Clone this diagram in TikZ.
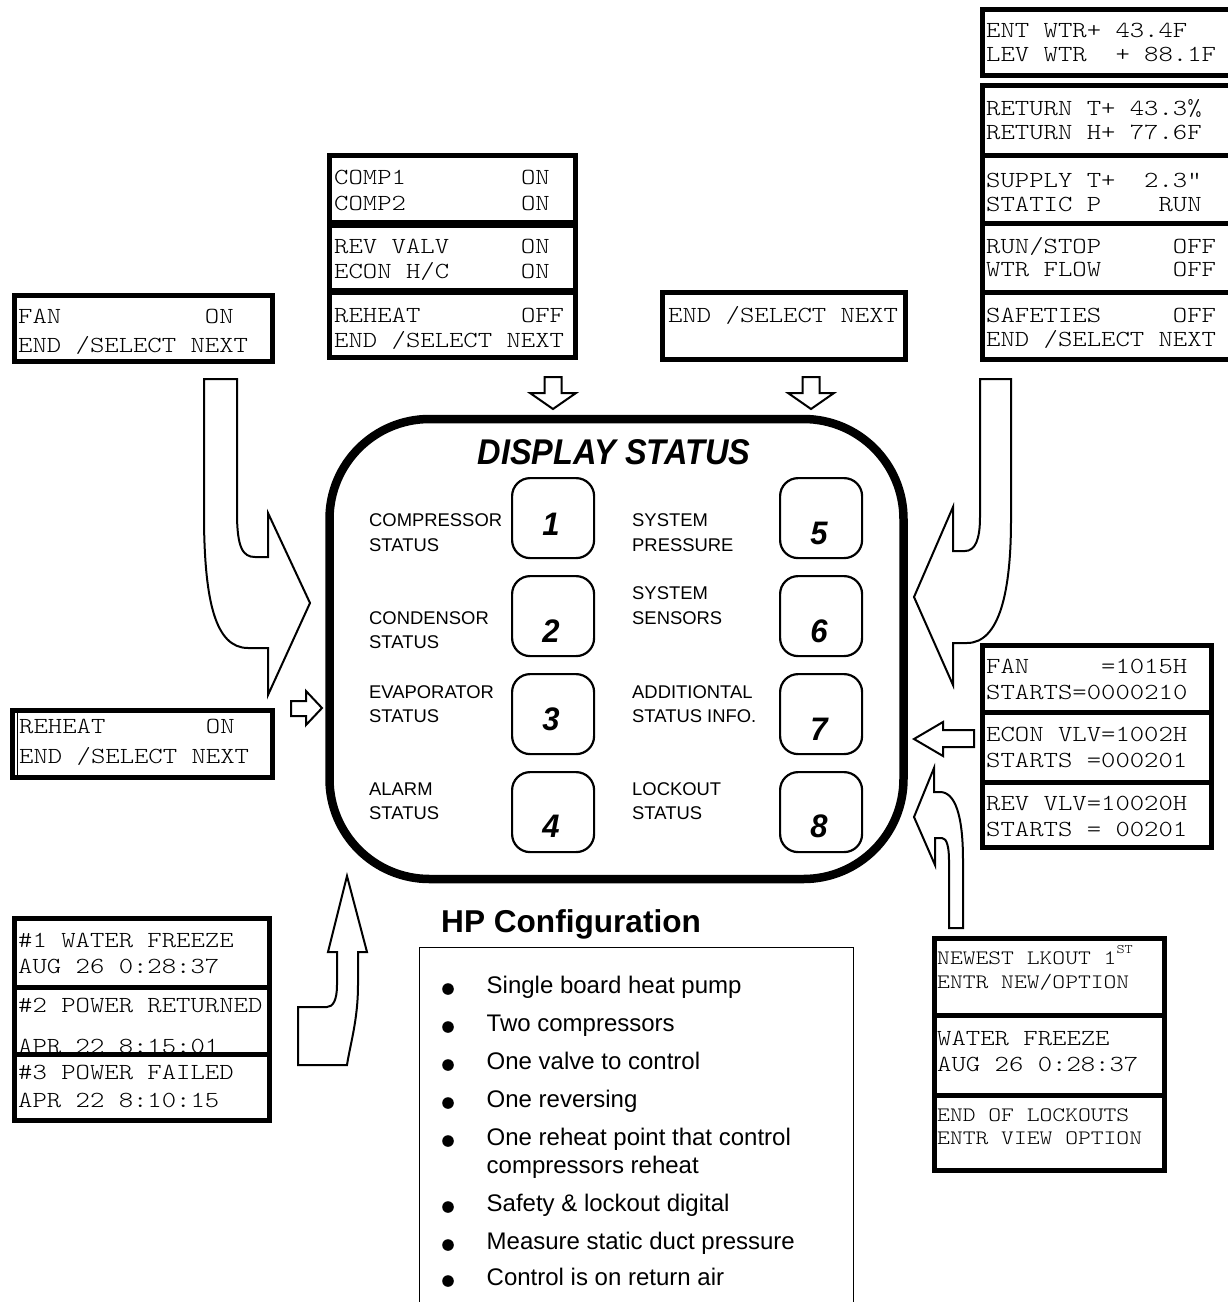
\documentclass[tikz,border=0pt]{standalone}
\usepackage{fontspec}
\usepackage{graphicx}
\setmainfont{Liberation Sans}
\newfontfamily\lcdfont{lmmonolt10-regular.otf}[FakeStretch=1.19]
\usetikzlibrary{positioning}

\tikzset{
  lcd/.style={draw, line width=5pt},
  lcdtext/.style={anchor=base west, inner sep=0pt, font=\lcdfont\fontsize{23}{25}\selectfont},
  lcdsmall/.style={lcdtext, font=\lcdfont\fontsize{20.5}{22}\selectfont},
  keybox/.style={draw, line width=2.2pt, rounded corners=18pt, minimum width=82pt, minimum height=80pt, anchor=north west, inner sep=0pt},
  keylabel/.style={anchor=base west, inner sep=0pt, font=\fontsize{18.4}{20}\selectfont},
  keynum/.style={anchor=base, inner sep=0pt, font=\bfseries\itshape\fontsize{31}{33}\selectfont},
  item/.style={anchor=base west, inner sep=0pt, font=\fontsize{24}{26}\selectfont},
  hollow/.style={draw, line width=2pt, fill=white, line join=miter},
}

% two text lines of one screen
\newcommand{\screen}[6]{%
  \node[lcdtext] (#1a) at (#2,#3) {#5};
  \node[lcdtext] (#1b) at (#2,#4) {#6};}

\begin{document}
\begin{tikzpicture}[x=1pt, y=-1pt]
    \useasboundingbox (0,0) rectangle (1227,1302);

    % Draw the display panel
    \draw[line width=8.5pt, rounded corners=100pt] (329.5,419) rectangle (903.5,879);
    \node[keynum, font=\bfseries\itshape\fontsize{32.5}{34}\selectfont] (title) at (614,464)
        {\scalebox{1}[1.1]{DISPLAY STATUS}};

    \foreach \n/\kx/\ky in {1/511/477, 2/511/575, 3/511/673, 4/511/771,
                            5/779/477, 6/779/575, 7/779/673, 8/779/771}
        \node[keybox] (key\n) at (\kx,\ky) {};

    \foreach \n/\nx/\ny in {1/551/535, 2/551/642, 3/551/730, 4/551/837,
                            5/819/544, 6/819/642, 7/819/740, 8/819/837}
        \node[keynum] (num\n) at (\nx,\ny) {\scalebox{1}[1.05]{\n}};

    \foreach \name/\lx/\ly/\txt in {cmpa/369/526/COMPRESSOR, cmpb/369/551/STATUS,
            cnda/369/624/CONDENSOR, cndb/369/648/STATUS,
            evpa/369/698/EVAPORATOR, evpb/369/722/STATUS,
            alma/369/795/ALARM, almb/369/819/STATUS,
            prsa/632/526/SYSTEM, prsb/632/551/PRESSURE,
            sena/632/599/SYSTEM, senb/632/624/SENSORS,
            adda/632/698/ADDITIONTAL, addb/632/722/STATUS INFO.,
            lcka/632/795/LOCKOUT, lckb/632/819/STATUS}
        \node[keylabel] (\name) at (\lx,\ly) {\txt};

    % Draw the screens
    \draw[lcd] (14.5,295.5) rectangle (272.5,361.5);
    \screen{fan}{18}{323}{352}{FAN~~~~~~~~~~ON}{END /SELECT NEXT}

    \draw[lcd] (329.5,155.5) rectangle (575,222);
    \draw[lcd] (329.5,225.5) rectangle (575,290);
    \draw[lcd] (329.5,292.5) rectangle (575,357.5);
    \screen{cmp}{334}{184}{210}{COMP1~~~~~~~~ON}{COMP2~~~~~~~~ON}
    \screen{rev}{334}{253}{278}{REV VALV~~~~~ON}{ECON H/C~~~~~ON}
    \screen{rht}{334}{322}{347}{REHEAT~~~~~~~OFF}{END /SELECT NEXT}

    \draw[lcd] (662.5,292.5) rectangle (905,359.5);
    \node[lcdtext] (endp) at (668,322) {END /SELECT NEXT};

    \draw[lcd] (982.5,9.5) rectangle (1240,75.5);
    \draw[lcd] (982.5,85.5) rectangle (1240,155);
    \draw[lcd] (982.5,155) rectangle (1240,223);
    \draw[lcd] (982.5,223) rectangle (1240,292);
    \draw[lcd] (982.5,292) rectangle (1240,359.5);
    \screen{wtr}{986}{37}{61}{ENT WTR+ 43.4F}{LEV WTR~~+ 88.1F}
    \screen{ret}{986}{115}{139}{RETURN T+ 43.3\%}{RETURN H+ 77.6F}
    \screen{sup}{986}{187}{211}{SUPPLY T+~~2.3”}{STATIC P~~~~RUN}
    \screen{run}{986}{253}{276}{RUN/STOP~~~~~OFF}{WTR FLOW~~~~~OFF}
    \screen{saf}{986}{322}{346}{SAFETIES~~~~~OFF}{END /SELECT NEXT}

    \draw[lcd] (12.5,710.5) rectangle (272.5,777.5);
    \draw[line width=1pt] (17.5,713) -- (17.5,775);
    \screen{reh}{19}{733}{763}{REHEAT~~~~~~~ON}{END /SELECT NEXT}

    \draw[lcd] (982.5,645.5) rectangle (1211.5,712);
    \draw[lcd] (982.5,712) rectangle (1211.5,782);
    \draw[lcd] (982.5,782) rectangle (1211.5,847.5);
    \screen{hrf}{986}{673}{699}{FAN~~~~~=1015H}{STARTS=0000210}
    \screen{hre}{986}{741}{767}{ECON VLV=1002H}{STARTS =000201}
    \screen{hrr}{986}{810}{836}{REV VLV=10020H}{STARTS = 00201}

    \draw[lcd] (14.5,918.5) rectangle (269.5,987);
    \draw[lcd] (14.5,987) rectangle (269.5,1054);
    \screen{alm}{18}{947}{973}{\#1 WATER FREEZE}{AUG 26 0:28:37}
    \screen{pwr}{18}{1012}{1053}{\#2 POWER RETURNED}{APR 22 8:15:01}
    \draw[lcd, fill=white] (14.5,1054) rectangle (269.5,1120.5);
    \screen{pwf}{18}{1079}{1107}{\#3 POWER FAILED}{APR 22 8:10:15}

    \draw[lcd] (934.5,938.5) rectangle (1164.5,1015);
    \draw[lcd] (934.5,1015) rectangle (1164.5,1095);
    \draw[lcd] (934.5,1095) rectangle (1164.5,1170.5);
    \node[lcdsmall] (newa) at (937,964) {NEWEST LKOUT 1\raisebox{10.5pt}{\fontsize{13}{13}\selectfont ST}};
    \node[lcdsmall] (newb) at (937,988) {ENTR NEW/OPTION};
    \screen{frz}{937}{1045}{1071}{WATER FREEZE}{AUG 26 0:28:37}
    \node[lcdsmall] (enda) at (937,1121) {END OF LOCKOUTS};
    \node[lcdsmall] (endb) at (937,1144) {ENTR VIEW OPTION};

    % Draw the arrows
    \foreach \cx in {553, 811}
        \draw[hollow] (\cx-8.5,377) -- (\cx+8.5,377) -- (\cx+8.5,393) -- (\cx+23,393)
            -- (\cx,409) -- (\cx-23,393) -- (\cx-8.5,393) -- cycle;

    \draw[hollow] (291,701) -- (306,701) -- (306,691) -- (322,708) -- (306,725)
        -- (306,716) -- (291,716) -- cycle;
    \draw[hollow] (974,730) -- (943,730) -- (943,722) -- (914,739) -- (943,756)
        -- (943,747) -- (974,747) -- cycle;

    \draw[hollow] (204,379) -- (237,379) -- (237,513)
        .. controls (237,548) and (243,557) .. (255,557) -- (268,557) -- (268,513)
        -- (310,603) -- (268,695) -- (268,648) -- (248,648)
        .. controls (215,648) and (205,600) .. (204,523) -- cycle;

    \draw[hollow] (1011,379) -- (980,379) -- (980,517)
        .. controls (980,540) and (975,551) .. (965,551) -- (953,551) -- (953,507)
        -- (914,597) -- (953,685) -- (953,643) -- (967,643)
        .. controls (1000,643) and (1011,590) .. (1011,520) -- cycle;

    \draw[hollow] (963,928) -- (949,928) -- (949,860)
        .. controls (949,848) and (947,838) .. (942,838) -- (935,838) -- (935,865)
        -- (914,817) -- (934,768) -- (934,792) -- (940,792)
        .. controls (955,792) and (963,815) .. (963,860) -- cycle;

    \draw[hollow] (298,1065) -- (298,1007) -- (327,1007)
        .. controls (333,1007) and (337,1000) .. (337,985) -- (337,952) -- (328,952)
        -- (347,876) -- (367,952) -- (358,952) -- (358,985)
        .. controls (358,1020) and (350,1045) .. (347,1065) -- cycle;

    % HP configuration list
    \node[anchor=base west, inner sep=0pt, font=\bfseries\fontsize{31.6}{34}\selectfont]
        (hpcfg) at (441,932) {HP Configuration};
    \draw[line width=1.5pt] (419.5,1310) -- (419.5,947.5) -- (853.5,947.5) -- (853.5,1310);

    \foreach \y/\txt [count=\i] in {993/Single board heat pump, 1031/Two compressors,
            1069/One valve to control, 1107/One reversing,
            1145/One reheat point that control, 1211/Safety \& lockout digital,
            1249/Measure static duct pressure, 1285/Control is on return air} {
        \fill (448,\y-4) circle (5.8pt);
        \node[item] (item\i) at (486.5,\y) {\txt};
    }
    \node[item] (itemx) at (486.5,1173) {compressors reheat};
\end{tikzpicture}
\end{document}
